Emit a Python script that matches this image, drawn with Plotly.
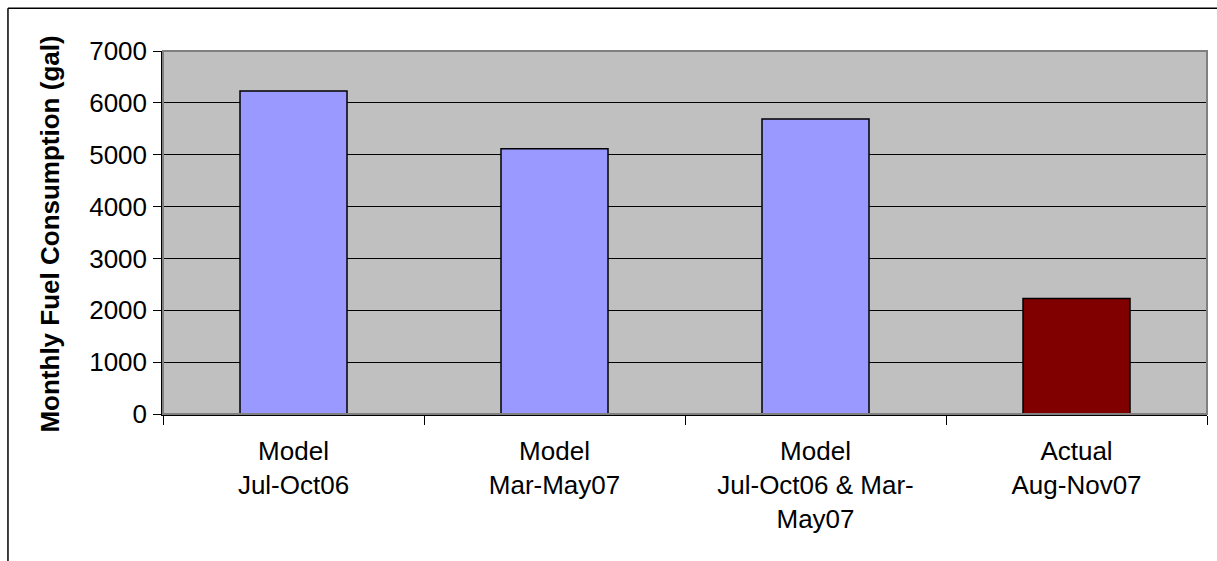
import plotly.graph_objects as go

# Monthly fuel consumption by model period vs. actual
categories = [
    "Model<br>Jul-Oct06",
    "Model<br>Mar-May07",
    "Model<br>Jul-Oct06 & Mar-<br>May07",
    "Actual<br>Aug-Nov07",
]
fuel_gal = [6230, 5115, 5690, 2225]
bar_colors = ["#9999FF", "#9999FF", "#9999FF", "#800000"]
y_ticks = [0, 1000, 2000, 3000, 4000, 5000, 6000, 7000]

FONT = "Liberation Sans, Arial, sans-serif"

fig = go.Figure(
    go.Bar(
        x=categories,
        y=fuel_gal,
        width=0.41,
        marker=dict(color=bar_colors, line=dict(color="#000000", width=1.5)),
        hoverinfo="x+y",
    )
)

fig.update_layout(
    width=1217,
    height=561,
    margin=dict(l=163, r=10, t=51, b=147),
    paper_bgcolor="#FFFFFF",
    plot_bgcolor="#C0C0C0",
    showlegend=False,
    font=dict(family=FONT, size=26, color="#000000"),
    xaxis=dict(
        type="category",
        tickson="boundaries",
        ticks="outside",
        ticklen=9,
        tickwidth=1,
        tickcolor="#000000",
        showline=True,
        linecolor="#000000",
        linewidth=1.5,
        showgrid=False,
        ticklabelstandoff=13,
        tickfont=dict(family=FONT, size=26, color="#000000"),
    ),
    yaxis=dict(
        range=[0, 7000],
        tickvals=y_ticks,
        ticktext=[str(v) for v in y_ticks],
        ticks="outside",
        ticklen=8,
        tickwidth=1,
        tickcolor="#000000",
        showline=True,
        linecolor="#000000",
        linewidth=1.5,
        showgrid=True,
        gridcolor="#000000",
        gridwidth=1,
        zeroline=False,
        ticklabelstandoff=1,
        tickfont=dict(family=FONT, size=26, color="#000000"),
    ),
    annotations=[
        dict(
            text="<b>Monthly Fuel Consumption (gal)</b>",
            textangle=-90,
            xref="paper",
            yref="paper",
            x=-0.108,
            y=0.495,
            xanchor="center",
            yanchor="middle",
            showarrow=False,
            font=dict(family=FONT, size=26, color="#000000"),
        )
    ],
    shapes=[
        # plot-area border (top and right edges in gray)
        dict(
            type="rect",
            xref="paper",
            yref="paper",
            x0=0,
            x1=1,
            y0=0,
            y1=1,
            line=dict(color="#808080", width=2),
            layer="above",
        ),
        # chart frame: left edge
        dict(
            type="line",
            xref="paper",
            yref="paper",
            x0=-0.1485,
            x1=-0.1485,
            y0=-0.5,
            y1=1.1175,
            line=dict(color="#000000", width=1.5),
        ),
        # chart frame: top edge
        dict(
            type="line",
            xref="paper",
            yref="paper",
            x0=-0.1485,
            x1=1.1,
            y0=1.1175,
            y1=1.1175,
            line=dict(color="#000000", width=1.5),
        ),
    ],
)

fig.write_html("out.html")
